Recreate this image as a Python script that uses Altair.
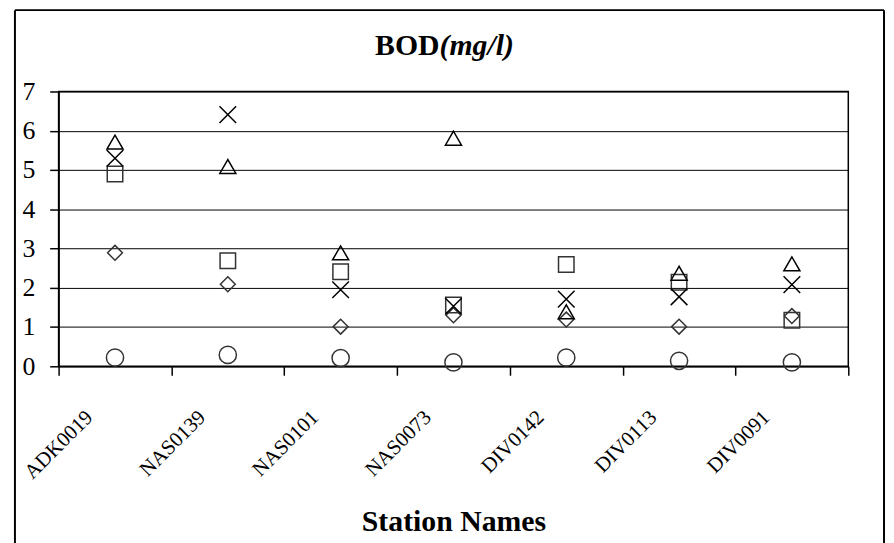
import altair as alt
import pandas as pd

stations = ["ADK0019", "NAS0139", "NAS0101", "NAS0073", "DIV0142", "DIV0113", "DIV0091"]
series_names = ["Series1", "Series2", "Series3", "Series4", "Series5"]
diamond_vals = [2.89, 2.09, 1.01, 1.30, 1.19, 1.01, 1.28]
square_vals = [4.90, 2.69, 2.41, 1.56, 2.59, 2.14, 1.17]
triangle_vals = [5.71, 5.09, 2.89, 5.81, 1.39, 2.37, 2.61]
cross_vals = [5.30, 6.41, 1.95, 1.53, 1.71, 1.77, 2.08]
circle_vals = [0.22, 0.29, 0.21, 0.10, 0.22, 0.14, 0.10]
y_ticks = [0, 1, 2, 3, 4, 5, 6, 7]

rows = []
for name, vals in zip(series_names, [diamond_vals, square_vals, triangle_vals, cross_vals, circle_vals]):
    for s, v in zip(stations, vals):
        rows.append({"Station": s, "Series": name, "BOD": v})
df = pd.DataFrame(rows)

X_PATH = "M-1,-1L1,1M-1,1L1,-1"
shapes = ["diamond", "square", "triangle-up", X_PATH, "circle"]
sizes = [225, 300, 360, 300, 310]
strokes = ["#333333", "#333333", "#000000", "#000000", "#333333"]

W, H = 796, 277
FONT = "Liberation Serif, Times New Roman, serif"

points = alt.Chart(df).mark_point(filled=False, strokeWidth=1.5, opacity=1).encode(
    x=alt.X(
        "Station:N", sort=stations,
        scale=alt.Scale(paddingInner=0, paddingOuter=0),
        axis=alt.Axis(
            title="Station Names", labelAngle=-45, labelAlign="right", labelBaseline="middle",
            labelFont=FONT, labelFontSize=21, labelColor="black", labelOffset=-26, labelPadding=39,
            tickBand="extent", tickSize=9, tickColor="black", tickWidth=1.5,
            domainColor="black", domainWidth=1.5, grid=False,
            titleFont=FONT, titleFontSize=30, titleFontWeight="bold", titleColor="black",
            titleY=166, titleBaseline="alphabetic",
        ),
    ),
    y=alt.Y(
        "BOD:Q",
        scale=alt.Scale(domain=[0, 7], nice=False, zero=True),
        axis=alt.Axis(
            values=y_ticks, format="d", title=None, grid=True, gridColor="black", gridWidth=1,
            gridOpacity=1, labelFont=FONT, labelFontSize=26, labelColor="black", labelPadding=15,
            tickSize=9, tickColor="black", tickWidth=1.5, domainColor="black", domainWidth=1.5,
        ),
    ),
    shape=alt.Shape("Series:N", scale=alt.Scale(domain=series_names, range=shapes), legend=None),
    size=alt.Size("Series:O", scale=alt.Scale(domain=series_names, range=sizes), legend=None),
    stroke=alt.Stroke("Series:N", scale=alt.Scale(domain=series_names, range=strokes), legend=None),
)

one = pd.DataFrame({"k": [0]})
frame_left = alt.Chart(one).mark_rule(color="black", strokeWidth=2).encode(
    x=alt.value(-44), y=alt.value(-82), y2=alt.value(480))
frame_top = alt.Chart(one).mark_rule(color="black", strokeWidth=2).encode(
    x=alt.value(-44), x2=alt.value(832), y=alt.value(-82))
frame_right = alt.Chart(one).mark_rule(color="black", strokeWidth=2).encode(
    x=alt.value(832), y=alt.value(-82), y2=alt.value(480))

title_a = alt.Chart(one).mark_text(
    text="BOD", font=FONT, fontSize=30, fontWeight="bold", align="right",
    baseline="alphabetic", color="black").encode(x=alt.value(384), y=alt.value(-37))
title_b = alt.Chart(one).mark_text(
    text="(mg/l)", font=FONT, fontSize=30, fontWeight="bold", fontStyle="italic", align="left",
    baseline="alphabetic", color="black").encode(x=alt.value(384), y=alt.value(-37))

chart = alt.layer(points, frame_left, frame_top, frame_right, title_a, title_b).properties(
    width=W, height=H,
    autosize=alt.AutoSizeParams(type="none"),
    padding={"left": 51, "top": 82, "right": 38, "bottom": 180},
).configure_view(stroke="black", strokeWidth=1.5)

chart.save("out.html", embed_options={"renderer": "svg", "actions": False})
